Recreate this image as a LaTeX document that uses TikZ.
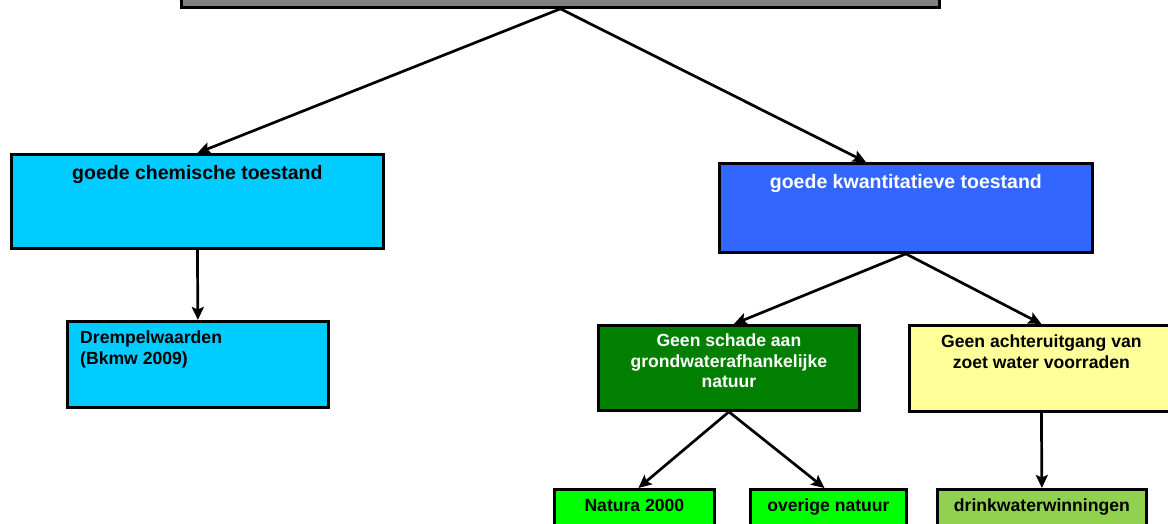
\documentclass[tikz,border=0pt]{standalone}
\usepackage{fontspec}
\setmainfont{Liberation Sans}
\usetikzlibrary{arrows.meta, positioning}

\definecolor{grijs}{HTML}{808080}
\definecolor{chemblauw}{HTML}{00CCFF}
\definecolor{kwantblauw}{HTML}{3366FF}
\definecolor{donkergroen}{HTML}{007F00}
\definecolor{lichtgeel}{HTML}{FFFF99}
\definecolor{felgroen}{HTML}{00FF00}
\definecolor{lichtgroen}{HTML}{92D050}

\begin{document}
\begin{tikzpicture}[x = 1pt, y = -1pt,
	blok/.style = {draw, line width = 2.8pt, rectangle, anchor = north west, inner sep = 0pt},
	kop/.style = {font = \bfseries\fontsize{19.5}{23}\selectfont, inner sep = 0pt, below = 12pt},
	tekst/.style = {font = \bfseries\fontsize{17.6}{20.5}\selectfont, inner sep = 0pt, align = center},
	pijl/.style = {-{Stealth[length = 13pt, width = 12pt, inset = 2.5pt]}, line width = 2.7pt}]

\useasboundingbox (0,0) rectangle (1168,524);
\clip (0,0) rectangle (1168,524);

\node[blok, fill = grijs, minimum width = 758pt, minimum height = 46pt]		(top)		at (180,-40)	{};
\node[blok, fill = chemblauw, minimum width = 372pt, minimum height = 94pt,
	label = {[kop]north:goede chemische toestand}]							(chem)		at (10,153)		{};
\node[blok, fill = kwantblauw, minimum width = 373pt, minimum height = 89pt,
	label = {[kop, white]north:goede kwantitatieve toestand}]				(kwant)		at (718,162)	{};
\node[blok, fill = chemblauw, minimum width = 261pt, minimum height = 86pt,
	label = {[tekst, align = left, below right = 11pt and 14pt]north west:{Drempelwaarden\\(Bkmw 2009)}}]
																		(drempel)	at (66,320)		{};
\node[blok, fill = donkergroen, minimum width = 261pt, minimum height = 85pt,
	label = {[tekst, white, below = 10pt]north:{Geen schade aan\\grondwaterafhankelijke\\natuur}}]
																		(schade)	at (597,324)	{};
\node[blok, fill = lichtgeel, minimum width = 264pt, minimum height = 86pt,
	label = {[tekst, below = 11pt]north:{Geen achteruitgang van\\zoet water voorraden}}]
																		(achter)	at (908,324)	{};
\node[blok, fill = felgroen, minimum width = 160pt, minimum height = 60pt,
	label = {[tekst, below = 11pt]north:Natura 2000}]						(natura)	at (553,488)	{};
\node[blok, fill = felgroen, minimum width = 156pt, minimum height = 60pt,
	label = {[tekst, below = 11pt]north:overige natuur}]					(overige)	at (749,488)	{};
\node[blok, fill = lichtgroen, minimum width = 209pt, minimum height = 60pt,
	label = {[tekst, below = 11pt]north:drinkwaterwinningen}]				(drink)		at (936,488)	{};

\path[pijl]	(top.south)		edge	(chem.north)
			(top.south)		edge	([xshift = -40pt]kwant.north)
			(chem.south)	edge	(drempel.north)
			(kwant.south)	edge	([xshift = 5pt]schade.north)
			(kwant.south)	edge	(achter.north)
			(schade.south)	edge	([xshift = 4pt]natura.north)
			(schade.south)	edge	([xshift = -4pt]overige.north)
			(achter.south)	edge	(drink.north);
\end{tikzpicture}
\end{document}
